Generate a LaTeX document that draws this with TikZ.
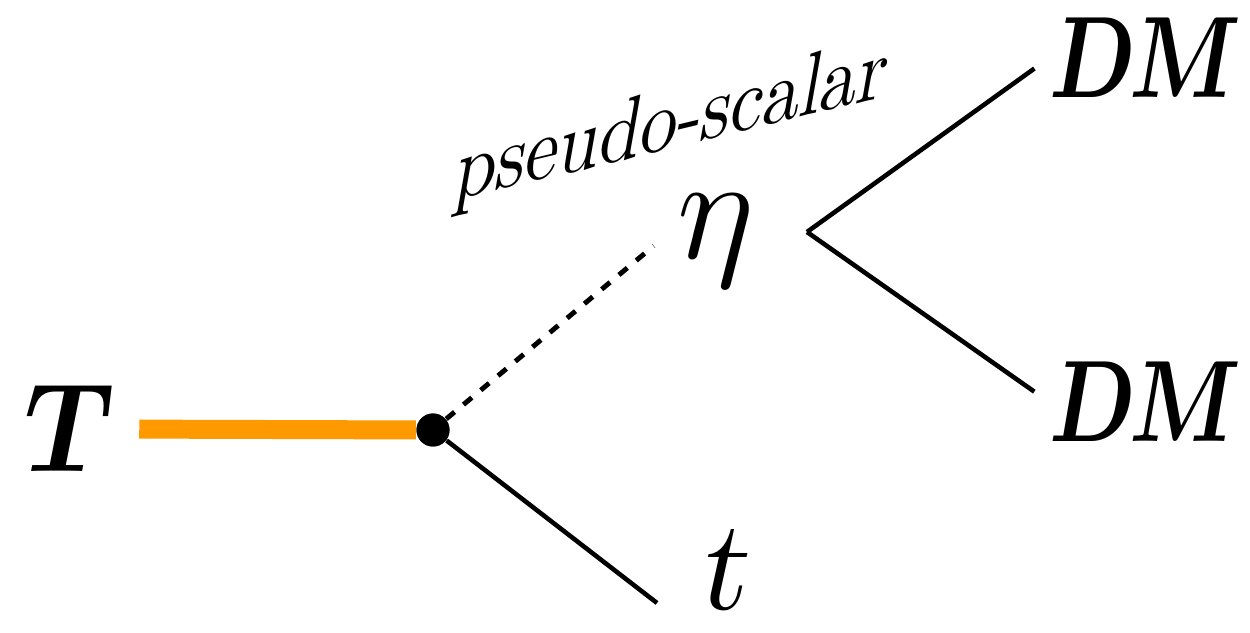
\documentclass[tikz,border=0pt]{standalone}
\usepackage{fontspec}
\newfontfamily\heavyit{lmroman10-bold.otf}[FakeSlant=0.22]
\newfontfamily\lightit{lmroman10-regular.otf}[FakeSlant=0.22]
\definecolor{heavyT}{RGB}{255,153,0}

\begin{document}
\begin{tikzpicture}[lbl/.style={inner sep=0pt},
  vtx/.style={circle,fill=black,inner sep=0pt,minimum size=3.3mm},
  leg/.style={line width=1.3pt},
  scal/.style={line width=1.4pt,dash pattern=on 3.1pt off 3.3pt}]
\useasboundingbox (0,0) rectangle (12.5,6.32);
% particles
\node[lbl] (T) at (0.57,2.03) {\scalebox{0.9}[1]{\fontsize{36}{38}\selectfont\heavyit T}};
\node[lbl] (eta) at (7.16,3.91) {\scalebox{1.7}{\fontsize{24.88}{26}\selectfont$\eta$}};
\node[lbl] (t) at (7.2,0.62) {\fontsize{37}{39}\selectfont\lightit t};
\node[lbl] (dmA) at (11.39,5.74) {\scalebox{0.78}[1]{\fontsize{33}{35}\selectfont\heavyit DM}};
\node[lbl] (dmB) at (11.39,2.30) {\scalebox{0.78}[1]{\fontsize{33}{35}\selectfont\heavyit DM}};
\node[lbl,yslant=0.24] (ps) at (6.68,5.05) {\scalebox{0.84}[1]{\fontsize{25}{27}\selectfont\lightit pseudo-scalar}};
% vertices
\node[vtx] (v) at (4.33,2.02) {};
\coordinate (apex) at (8.07,4.00);
\coordinate (tend) at (6.57,0.29);
% lines
\draw[line width=5.4pt,heavyT,shorten <=0.36cm] (T.east) -- (v);
\draw[scal,shorten >=0.3cm] (v) -- (eta.160);
\draw[leg] (v) -- (tend);
\foreach \d in {dmA,dmB}{\draw[leg,shorten >=0.18cm] (apex) -- (\d.west);}
\node[vtx] at (v) {};
\end{tikzpicture}
\end{document}
